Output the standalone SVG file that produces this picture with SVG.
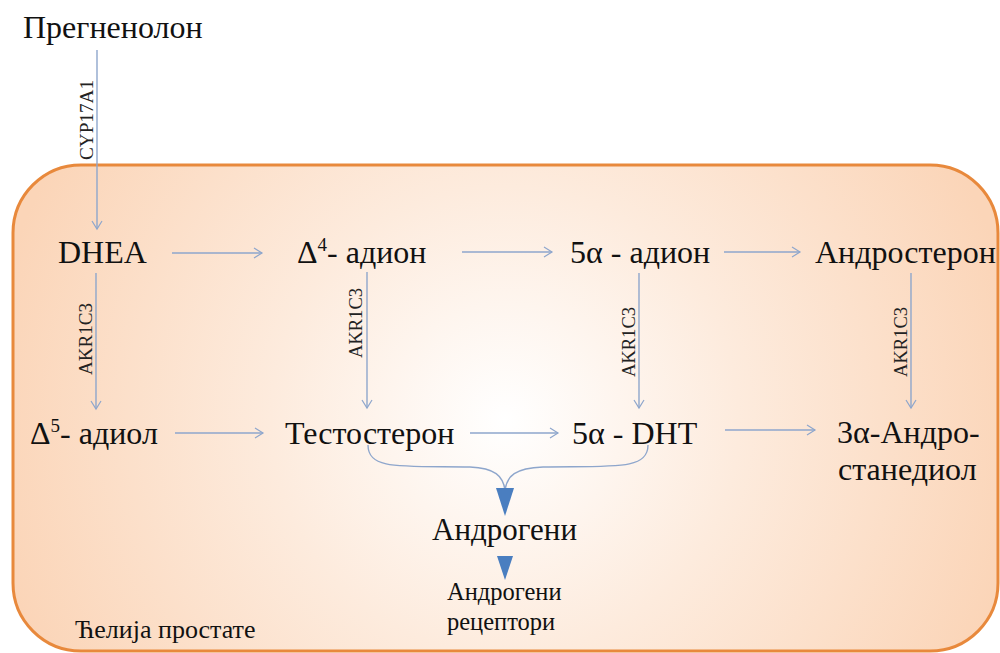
<svg xmlns="http://www.w3.org/2000/svg" width="1000" height="653" viewBox="0 0 1000 653" font-family="'Liberation Serif', 'Times New Roman', serif">
<defs>
<radialGradient id="bg" cx="505" cy="420" r="520" gradientUnits="userSpaceOnUse">
<stop offset="0" stop-color="#FFFFFF"/>
<stop offset="0.45" stop-color="#FDEBDD"/>
<stop offset="1" stop-color="#FBD5B8"/>
</radialGradient>
<marker id="ah" markerWidth="12" markerHeight="12" refX="10" refY="6" orient="auto" markerUnits="userSpaceOnUse">
<path d="M2,1 L10,6 L2,11" fill="none" stroke="#8EA6CC" stroke-width="1.2"/>
</marker>
</defs>
<style>
.t{fill:#111;}
.big{font-size:32px;}
.mid{font-size:31px;}
.sm{font-size:24.5px;}
.lbl{font-size:18px;fill:#222;}
.c{stroke:#8EA6CC;stroke-width:1.4;fill:none;}
.tri{fill:#4A7EC0;}
</style>
<rect x="13" y="165" width="985" height="486" rx="68" ry="68" fill="url(#bg)" stroke="#E8893C" stroke-width="3"/>
<g id="connectors">
<line class="c" x1="97" y1="50" x2="97" y2="229" marker-end="url(#ah)"/>
<line class="c" x1="172" y1="253" x2="262" y2="253" marker-end="url(#ah)"/>
<line class="c" x1="462" y1="252" x2="552" y2="252" marker-end="url(#ah)"/>
<line class="c" x1="724" y1="252" x2="800" y2="252" marker-end="url(#ah)"/>
<line class="c" x1="96" y1="273" x2="96" y2="409" marker-end="url(#ah)"/>
<line class="c" x1="367" y1="272" x2="367" y2="408" marker-end="url(#ah)"/>
<line class="c" x1="639" y1="273" x2="639" y2="408" marker-end="url(#ah)"/>
<line class="c" x1="911" y1="273" x2="911" y2="408" marker-end="url(#ah)"/>
<line class="c" x1="175" y1="433" x2="263" y2="433" marker-end="url(#ah)"/>
<line class="c" x1="470" y1="433" x2="558" y2="433" marker-end="url(#ah)"/>
<line class="c" x1="725" y1="430" x2="815" y2="430" marker-end="url(#ah)"/>
<path class="c" d="M368,445 C368,470 400,466 470,467 C495,468 503,476 505,490"/>
<path class="c" d="M648,445 C648,470 615,466 543,467 C515,468 507,476 505,490"/>
<polygon class="tri" points="496,488 514,488 505,516"/>
<polygon class="tri" points="497,556 513,556 505,580"/>
<text class="lbl" transform="translate(93,160) rotate(-90)" textLength="80" lengthAdjust="spacingAndGlyphs">CYP17A1</text>
<text class="lbl" transform="translate(92,375) rotate(-90)" textLength="72" lengthAdjust="spacingAndGlyphs">AKR1C3</text>
<text class="lbl" transform="translate(362,358) rotate(-90)" textLength="70" lengthAdjust="spacingAndGlyphs">AKR1C3</text>
<text class="lbl" transform="translate(635,377) rotate(-90)" textLength="70" lengthAdjust="spacingAndGlyphs">AKR1C3</text>
<text class="lbl" transform="translate(907,377) rotate(-90)" textLength="70" lengthAdjust="spacingAndGlyphs">AKR1C3</text>
</g>
<g id="pregnenolon"><text class="t big" x="23" y="38">Прегненолон</text></g>
<g id="dhea"><text class="t big" x="58" y="263">DHEA</text></g>
<g id="d4adion"><text class="t big" x="297" y="263">Δ<tspan font-size="19" dy="-12">4</tspan><tspan dy="12">- адион</tspan></text></g>
<g id="5aadion"><text class="t big" x="570" y="263">5α - адион</text></g>
<g id="androsteron"><text class="t big" x="815" y="263">Андростерон</text></g>
<g id="d5adiol"><text class="t big" x="30" y="444">Δ<tspan font-size="19" dy="-12">5</tspan><tspan dy="12">- адиол</tspan></text></g>
<g id="testosteron"><text class="t big" x="285" y="444">Тестостерон</text></g>
<g id="dht"><text class="t big" x="572" y="444">5α - DHT</text></g>
<g id="androstanediol"><text class="t big" x="837" y="443">3α-Андро-</text><text class="t big" x="838" y="480">станедиол</text></g>
<g id="androgeni"><text class="t mid" x="432" y="540">Андрогени</text></g>
<g id="receptori"><text class="t sm" x="447" y="600">Андрогени</text><text class="t sm" x="447" y="630">рецептори</text></g>
<g id="celija"><text class="t" x="75" y="638" font-size="26">Ћелија простате</text></g>
</svg>
